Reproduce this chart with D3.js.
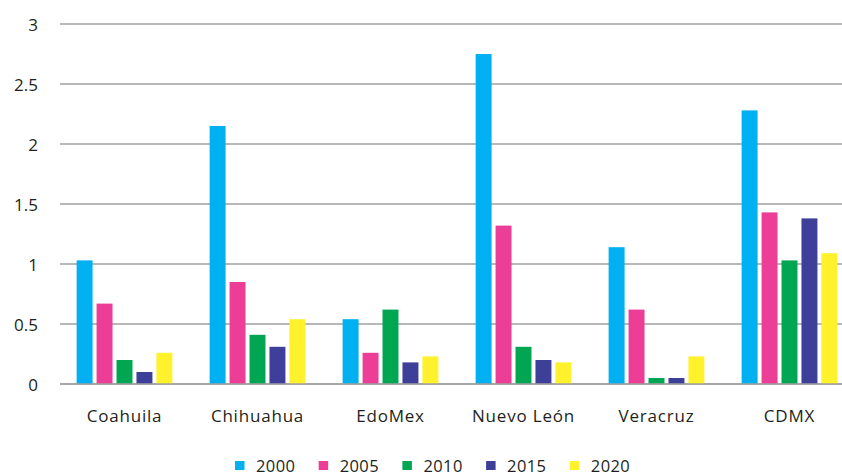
<!DOCTYPE html>
<html>
<head>
<meta charset="utf-8">
<script src="https://cdn.jsdelivr.net/npm/d3@7"></script>
<style>
  html, body { margin: 0; padding: 0; background: #fff; }
  svg { display: block; font-family: "Open Sans", "Noto Sans", sans-serif; }
</style>
</head>
<body>
<svg id="chart" width="842" height="475"></svg>
<script>
// States and survey years
const states = ["Coahuila", "Chihuahua", "EdoMex", "Nuevo León", "Veracruz", "CDMX"];
const years = ["2000", "2005", "2010", "2015", "2020"];

// Values per year, one entry per state (same order as `states`)
const v2000 = [1.03, 2.15, 0.54, 2.75, 1.14, 2.28];
const v2005 = [0.67, 0.85, 0.26, 1.32, 0.62, 1.43];
const v2010 = [0.20, 0.41, 0.62, 0.31, 0.05, 1.03];
const v2015 = [0.10, 0.31, 0.18, 0.20, 0.05, 1.38];
const v2020 = [0.26, 0.54, 0.23, 0.18, 0.23, 1.09];

const yTicks = [0, 0.5, 1, 1.5, 2, 2.5, 3];
const yearColors = ["#00b0f0", "#ec3e96", "#00a651", "#3e3f98", "#fff22d"];

const series = [v2000, v2005, v2010, v2015, v2020];
const rows = states.map((s, i) => ({
  state: s,
  values: years.map((y, j) => ({ year: y, value: series[j][i] }))
}));

const svg = d3.select("#chart");
const textColor = "#231f20";
const fontSize = 17;

const x0 = d3.scaleBand().domain(states).range([58, 856]).paddingInner(0.25).paddingOuter(0.125);
const x1 = d3.scaleBand().domain(years).range([0, x0.bandwidth()]).paddingInner(0.2).paddingOuter(0.1);
const y = d3.scaleLinear().domain([0, 3]).range([384, 24]);
const color = d3.scaleOrdinal().domain(years).range(yearColors);

// Horizontal gridlines
svg.append("g")
  .selectAll("line")
  .data(yTicks)
  .join("line")
  .attr("x1", 60).attr("x2", 842)
  .attr("y1", d => y(d)).attr("y2", d => y(d))
  .attr("stroke", "#a0a0a0")
  .attr("stroke-width", 1.4);

// Y axis labels
const yAxis = d3.axisLeft(y).tickValues(yTicks).tickSize(0).tickPadding(0)
  .tickFormat(d => String(d));
svg.append("g")
  .attr("transform", "translate(38,0)")
  .call(yAxis)
  .call(g => g.select(".domain").remove())
  .selectAll("text")
  .attr("dy", "0.38em")
  .attr("font-family", "\"Open Sans\", sans-serif")
  .attr("font-size", fontSize)
  .attr("fill", textColor);

// Bars
svg.append("g")
  .selectAll("g")
  .data(rows)
  .join("g")
  .attr("transform", d => `translate(${x0(d.state)},0)`)
  .selectAll("rect")
  .data(d => d.values)
  .join("rect")
  .attr("x", d => x1(d.year))
  .attr("width", x1.bandwidth())
  .attr("y", d => y(d.value))
  .attr("height", d => y(0) - y(d.value))
  .attr("fill", d => color(d.year));

// Baseline drawn above bars
svg.append("line")
  .attr("x1", 60).attr("x2", 842)
  .attr("y1", y(0)).attr("y2", y(0))
  .attr("stroke", "#a0a0a0")
  .attr("stroke-width", 1.4);

// Category labels
const xAxis = d3.axisBottom(x0).tickSize(0).tickPadding(0);
svg.append("g")
  .attr("transform", "translate(0,422)")
  .call(xAxis)
  .call(g => g.select(".domain").remove())
  .selectAll("text")
  .attr("y", 0)
  .attr("dy", 0)
  .attr("font-family", "\"Open Sans\", sans-serif")
  .attr("font-size", fontSize)
  .attr("letter-spacing", 0.8)
  .attr("fill", textColor);

// Legend
const legend = svg.append("g").attr("transform", "translate(235,461)");
const item = legend.selectAll("g")
  .data(years)
  .join("g")
  .attr("transform", (d, i) => `translate(${i * 83.7},0)`);
item.append("rect")
  .attr("width", 9.5).attr("height", 9)
  .attr("fill", d => color(d));
item.append("text")
  .attr("x", 21).attr("y", 10.5)
  .attr("font-size", 16.5)
  .attr("letter-spacing", 0.4)
  .attr("fill", textColor)
  .text(d => d);
</script>
</body>
</html>
